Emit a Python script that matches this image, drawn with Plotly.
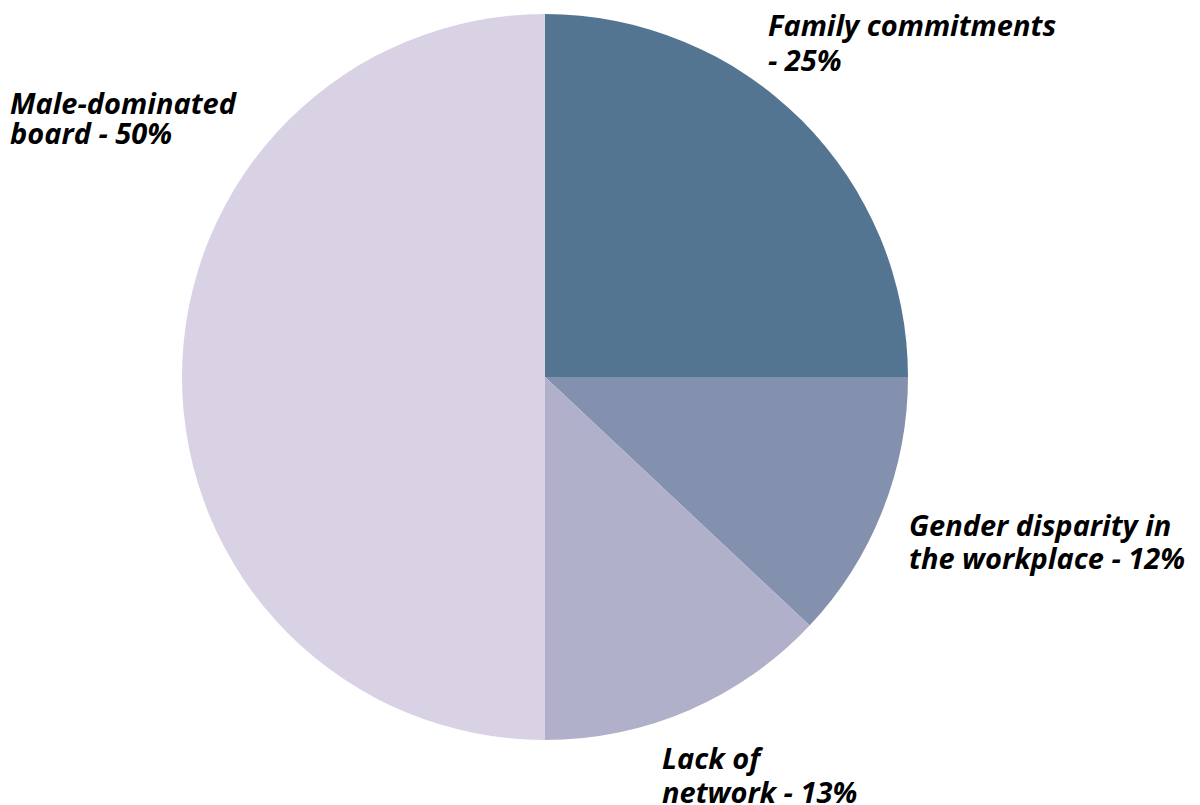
import plotly.graph_objects as go

labels = ["Family commitments", "Gender disparity in the workplace", "Lack of network", "Male-dominated board"]
values = [25, 12, 13, 50]
colors = ["#547591", "#8391ae", "#b0b0cb", "#d9d1e4"]
label_lines = [["Family commitments", "- 25%"],
               ["Gender disparity in", "the workplace - 12%"],
               ["Lack of", "network - 13%"],
               ["Male-dominated", "board - 50%"]]
# label anchor positions in pixels: left x, and vertical centre y of each line
label_x = [766, 907, 660, 8]
label_y = [[25, 59], [524, 557], [757, 791], [102, 132]]

W, H = 1200, 805
cx, cy, r = 545, 377, 363

fig = go.Figure(go.Pie(
    labels=labels, values=values, sort=False, direction="clockwise", rotation=0,
    marker=dict(colors=colors, line=dict(width=0)),
    textinfo="none", hoverinfo="label+percent",
    domain=dict(x=[(cx - r) / W, (cx + r) / W], y=[(H - cy - r) / H, (H - cy + r) / H]),
    showlegend=False,
))

for lines, px, pys in zip(label_lines, label_x, label_y):
    for t, py in zip(lines, pys):
        fig.add_annotation(
            x=px / W, y=1 - py / H, xref="paper", yref="paper",
            text=t, showarrow=False, xanchor="left", yanchor="middle", align="left",
            font=dict(family="Open Sans", size=29, color="#000000", weight="bold", style="italic"),
        )

fig.update_layout(width=W, height=H, margin=dict(l=0, r=0, t=0, b=0),
                  paper_bgcolor="white", plot_bgcolor="white")
fig.write_html("out.html")
